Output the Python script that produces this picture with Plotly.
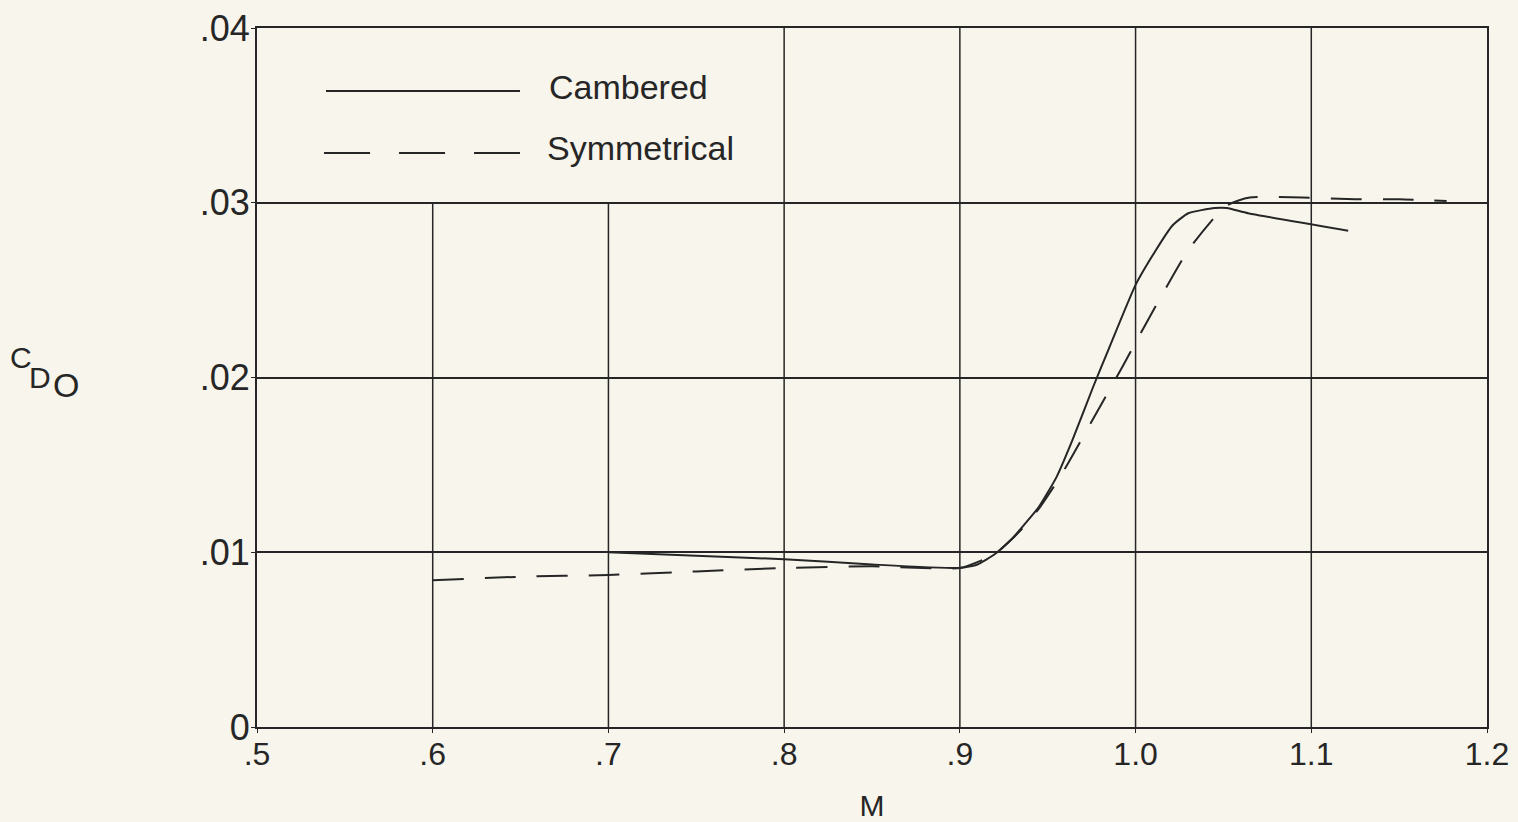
import plotly.graph_objects as go

# ---- data ----
cambered_M = [0.70, 0.75, 0.80, 0.85, 0.90, 0.91, 0.92, 0.93, 0.936, 0.945, 0.955,
              0.964, 0.976, 0.985, 1.000, 1.011, 1.021, 1.030, 1.045, 1.052, 1.064, 1.121]
cambered_CD = [0.0100, 0.0098, 0.0096, 0.0093, 0.0091, 0.0093, 0.0099, 0.0108, 0.0115, 0.0126, 0.0143,
               0.0164, 0.0195, 0.0217, 0.0253, 0.0272, 0.0287, 0.0294, 0.0297, 0.0297, 0.0294, 0.0284]

symm_M = [0.60, 0.65, 0.70, 0.75, 0.80, 0.85, 0.90, 0.92, 0.935, 0.945, 0.957, 0.965,
          0.974, 0.993, 1.000, 1.011, 1.030, 1.051, 1.065, 1.095, 1.125, 1.150, 1.177]
symm_CD = [0.0084, 0.0086, 0.0087, 0.0089, 0.0091, 0.0092, 0.0091, 0.0099, 0.0113, 0.0125, 0.0143, 0.0157,
           0.0173, 0.0207, 0.0220, 0.0240, 0.0273, 0.0298, 0.0303, 0.0303, 0.0302, 0.0302, 0.0301]

x_tickvals = [0.5, 0.6, 0.7, 0.8, 0.9, 1.0, 1.1, 1.2]
x_ticktext = [".5", ".6", ".7", ".8", ".9", "1.0", "1.1", "1.2"]
y_tickvals = [0, 0.01, 0.02, 0.03, 0.04]
y_ticktext = ["0", ".01", ".02", ".03", ".04"]

short_grid_M = [0.6, 0.7]          # vertical grid lines that stop at .03 (legend area)
full_grid_M = [0.8, 0.9, 1.0, 1.1]  # vertical grid lines up to .04

INK = "#262626"
PAPER = "#f7f5ec"
FONT = "Liberation Sans"

fig = go.Figure()
fig.add_trace(go.Scatter(x=cambered_M, y=cambered_CD, mode="lines", name="Cambered",
                         line=dict(color=INK, width=2, shape="spline", smoothing=0.5), showlegend=False))
fig.add_trace(go.Scatter(x=symm_M, y=symm_CD, mode="lines", name="Symmetrical",
                         line=dict(color=INK, width=2, dash="31px,21px", shape="spline", smoothing=0.5),
                         showlegend=False))

shapes = []
for m in short_grid_M:
    shapes.append(dict(type="line", xref="x", yref="y", x0=m, x1=m, y0=0, y1=0.03,
                       line=dict(color=INK, width=1.5), layer="below"))
for m in full_grid_M:
    shapes.append(dict(type="line", xref="x", yref="y", x0=m, x1=m, y0=0, y1=0.04,
                       line=dict(color=INK, width=1.5), layer="below"))

# hand-made legend (long line samples as in the original)
shapes.append(dict(type="line", xref="paper", yref="paper", x0=0.0561, x1=0.2138, y0=0.9099, y1=0.9099,
                   line=dict(color=INK, width=2)))
shapes.append(dict(type="line", xref="paper", yref="paper", x0=0.0545, x1=0.2138, y0=0.8212, y1=0.8212,
                   line=dict(color=INK, width=2, dash="46px,29px")))

annotations = [
    dict(text="Cambered", xref="paper", yref="paper", x=0.2358, y=0.9163, xanchor="left", yanchor="middle",
         showarrow=False, font=dict(family=FONT, size=34, color=INK)),
    dict(text="Symmetrical", xref="paper", yref="paper", x=0.2341, y=0.8283, xanchor="left", yanchor="middle",
         showarrow=False, font=dict(family=FONT, size=34, color=INK)),
    dict(text="C", xref="paper", yref="paper", x=-0.1919, y=0.5293, xanchor="center", yanchor="middle",
         showarrow=False, font=dict(family=FONT, size=30, color=INK)),
    dict(text="D", xref="paper", yref="paper", x=-0.1764, y=0.5007, xanchor="center", yanchor="middle",
         showarrow=False, font=dict(family=FONT, size=30, color=INK)),
    dict(text="O", xref="paper", yref="paper", x=-0.1553, y=0.4893, xanchor="center", yanchor="middle",
         showarrow=False, font=dict(family=FONT, size=34, color=INK)),
]

fig.update_layout(
    width=1518, height=822,
    margin=dict(l=257, r=31, t=28, b=95, autoexpand=False),
    paper_bgcolor=PAPER, plot_bgcolor=PAPER,
    shapes=shapes, annotations=annotations,
    showlegend=False,
    xaxis=dict(range=[0.5, 1.2], tickvals=x_tickvals, ticktext=x_ticktext, automargin=False,
               showgrid=False, zeroline=False, showline=True, mirror=True,
               linecolor=INK, linewidth=2, ticks="outside", ticklen=4, tickcolor=INK,
               ticklabelstandoff=-6,
               tickfont=dict(family=FONT, size=32, color=INK),
               title=dict(text="M", font=dict(family=FONT, size=30, color=INK), standoff=28)),
    yaxis=dict(range=[0, 0.04], tickvals=y_tickvals, ticktext=y_ticktext, automargin=False,
               showgrid=True, gridcolor=INK, gridwidth=1.5, zeroline=False,
               showline=True, mirror=True, linecolor=INK, linewidth=2,
               ticks="outside", ticklen=4, tickcolor=INK, ticklabelstandoff=-6,
               tickfont=dict(family=FONT, size=36, color=INK)),
)

fig.write_html(
    "out.html",
    config={"displayModeBar": False},
    post_script="document.body.style.margin='0';document.body.style.background='#f7f5ec';",
)
